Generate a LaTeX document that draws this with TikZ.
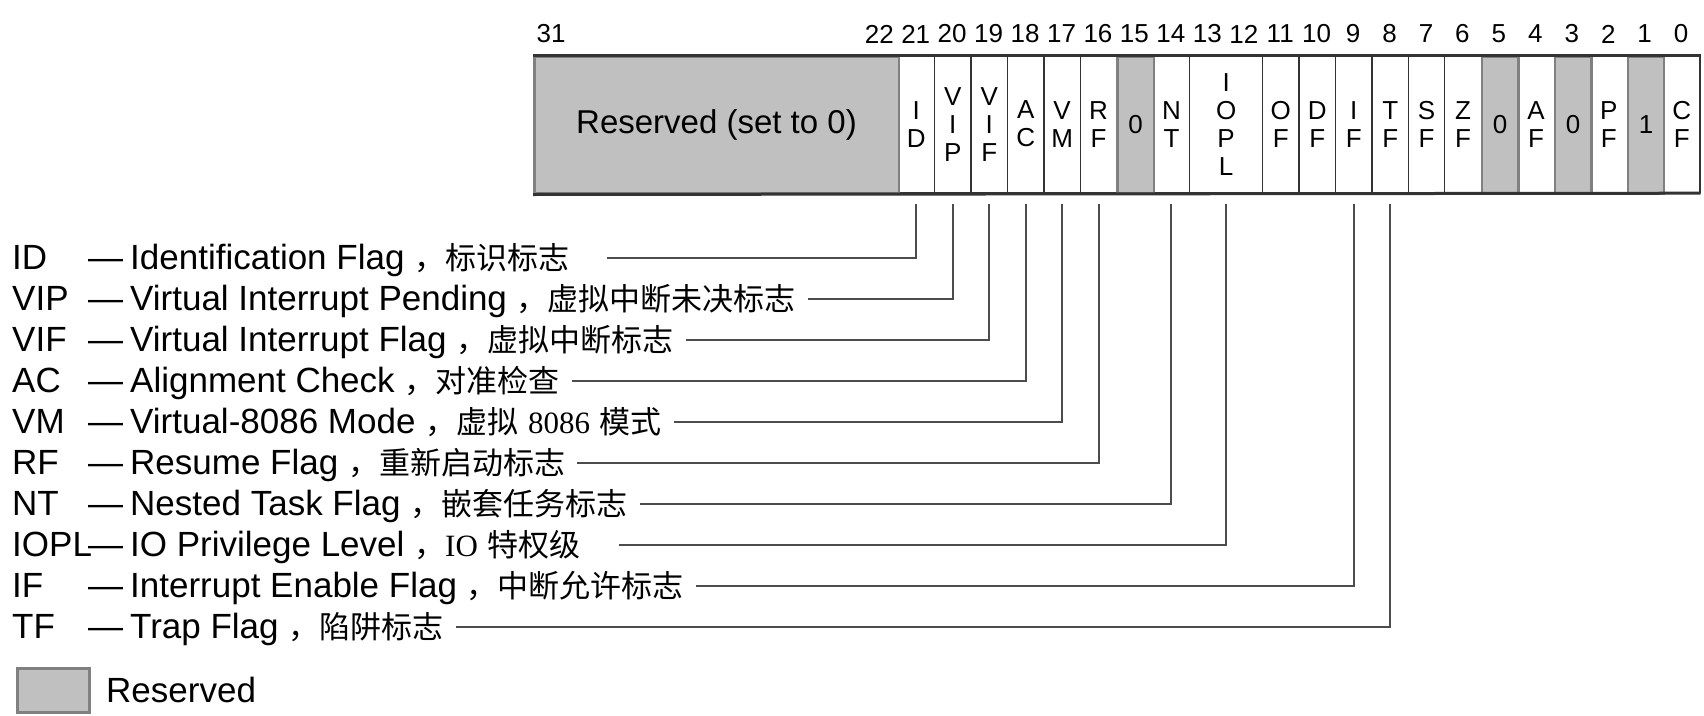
\documentclass[tikz,border=0pt]{standalone}
\usepackage{fontspec}
\setmainfont{Liberation Sans}
\newfontfamily\cjkfam{Noto Sans CJK SC}
\newfontfamily\sernumfam{Liberation Serif}
\definecolor{resgray}{RGB}{192,192,192}
\newcommand\zhtxt[1]{{\fontsize{31}{35}\selectfont\cjkfam #1}}
\newcommand\zhnum[1]{{\fontsize{31}{35}\selectfont\sernumfam #1}}
\newcommand\bitx[1]{533+(31-#1)*36.45}
\begin{document}
\begin{tikzpicture}[x=1pt,y=-1pt,
  wcell/.style={draw=black!80, line width=1.2pt, minimum height=137pt, minimum width=36.45pt,
    inner sep=0pt, anchor=north west, align=center, font=\fontsize{26}{28}\selectfont},
  gcell/.style={wcell, fill=resgray, draw=black!50, line width=2.5pt},
  bitnum/.style={font=\fontsize{26}{28}\selectfont, inner sep=0pt},
  abbr/.style={anchor=west, inner sep=0pt, text height=24pt, text depth=2pt, font=\fontsize{35}{40}\selectfont},
  desc/.style={abbr},
  lead/.style={draw=black!70, line width=2pt, shorten <=11pt, shorten >=12pt},
  far/.style={shorten >=38pt}
]
\useasboundingbox (0,0) rectangle (1704,715);

% bit numbers
\node[bitnum] (n31) at ({\bitx{31}+18.2},34) {31};
\foreach \b in {22,21,...,0}{
  \node[bitnum] (n\b) at ({\bitx{\b}+18.2},34) {\b};
}

% white cells
\node[wcell] (c21) at ({\bitx{21}},55) {I\\D};
\node[wcell] (c20) at ({\bitx{20}},55) {V\\I\\P};
\node[wcell] (c19) at ({\bitx{19}},55) {V\\I\\F};
\node[wcell] (c18) at ({\bitx{18}},55) {A\\C};
\node[wcell] (c17) at ({\bitx{17}},55) {V\\M};
\node[wcell] (c16) at ({\bitx{16}},55) {R\\F};
\node[wcell] (c14) at ({\bitx{14}},55) {N\\T};
\node[wcell, minimum width=72.9pt] (iopl) at ({\bitx{13}},55) {I\\O\\P\\L};
\node[wcell] (c11) at ({\bitx{11}},55) {O\\F};
\node[wcell] (c10) at ({\bitx{10}},55) {D\\F};
\node[wcell] (c9) at ({\bitx{9}},55) {I\\F};
\node[wcell] (c8) at ({\bitx{8}},55) {T\\F};
\node[wcell] (c7) at ({\bitx{7}},55) {S\\F};
\node[wcell] (c6) at ({\bitx{6}},55) {Z\\F};
\node[wcell] (c4) at ({\bitx{4}},55) {A\\F};
\node[wcell] (c2) at ({\bitx{2}},55) {P\\F};
\node[wcell] (c0) at ({\bitx{0}},55) {C\\F};

% reserved cells
\node[gcell, minimum width=364.5pt, font=\fontsize{33}{36}\selectfont] (res) at (533,55) {Reserved (set to 0)};
\node[gcell] (c15) at ({\bitx{15}},55) {0};
\node[gcell] (c5) at ({\bitx{5}},55) {0};
\node[gcell] (c3) at ({\bitx{3}},55) {0};
\node[gcell] (c1) at ({\bitx{1}},55) {1};

\draw[line width=3pt, black!80] (res.north west) -- (c0.north east);
\draw[line width=3pt, black!80] (res.south west) -- (c0.south east);

% legend rows
\foreach \k/\nm/\ab in {0/ID/ID,1/VIP/VIP,2/VIF/VIF,3/AC/AC,4/VM/VM,5/RF/RF,6/NT/NT,7/IOPL/IOPL,8/IF/IF,9/TF/TF}{
  \node[abbr] (a\nm) at (12,{258+41*\k}) {\ab};
  \node[abbr] (m\nm) at (88,{258+41*\k}) {—};
}
\node[desc] (dID)   at (130,258) {Identification Flag \zhtxt{，标识标志}};
\node[desc] (dVIP)  at (130,299) {Virtual Interrupt Pending \zhtxt{，虚拟中断未决标志}};
\node[desc] (dVIF)  at (130,340) {Virtual Interrupt Flag \zhtxt{，虚拟中断标志}};
\node[desc] (dAC)   at (130,381) {Alignment Check \zhtxt{，对准检查}};
\node[desc] (dVM)   at (130,422) {Virtual-8086 Mode \zhtxt{，虚拟} \zhnum{8086} \zhtxt{模式}};
\node[desc] (dRF)   at (130,463) {Resume Flag \zhtxt{，重新启动标志}};
\node[desc] (dNT)   at (130,504) {Nested Task Flag \zhtxt{，嵌套任务标志}};
\node[desc] (dIOPL) at (130,545) {IO Privilege Level \zhtxt{，}\zhnum{IO} \zhtxt{特权级}};
\node[desc] (dIF)   at (130,586) {Interrupt Enable Flag \zhtxt{，中断允许标志}};
\node[desc] (dTF)   at (130,627) {Trap Flag \zhtxt{，陷阱标志}};

% leader lines
\draw[lead, far] (c21.south) |- (dID.east);
\draw[lead] (c20.south) |- (dVIP.east);
\draw[lead] (c19.south) |- (dVIF.east);
\draw[lead] (c18.south) |- (dAC.east);
\draw[lead] (c17.south) |- (dVM.east);
\draw[lead] (c16.south) |- (dRF.east);
\draw[lead] (c14.south) |- (dNT.east);
\draw[lead, far] (iopl.south) |- (dIOPL.east);
\draw[lead] (c9.south) |- (dIF.east);
\draw[lead] (c8.south) |- (dTF.east);

% key
\node[draw=black!50, fill=resgray, line width=2.5pt, minimum width=72pt, minimum height=44pt,
  inner sep=0pt, anchor=north west] (key) at (16,667) {};
\node[anchor=west, inner sep=0pt, font=\fontsize{35}{40}\selectfont] (keyt) at (106,690) {Reserved};
\end{tikzpicture}
\end{document}
